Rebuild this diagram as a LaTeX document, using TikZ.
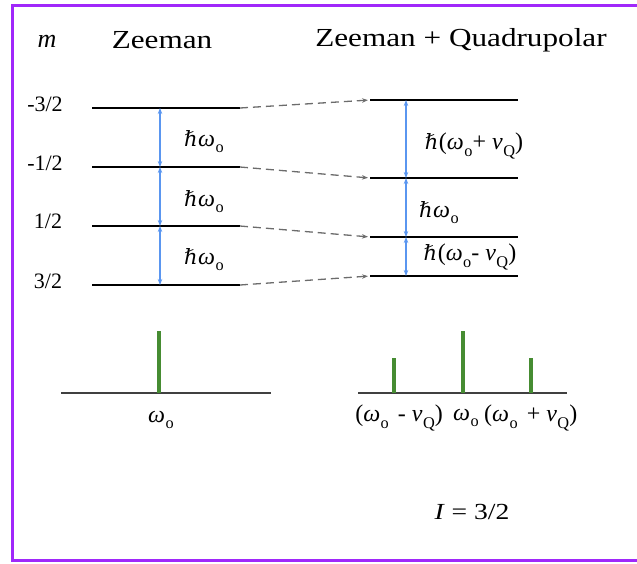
\documentclass[tikz,border=0pt]{standalone}
\usepackage{fontspec}
\usetikzlibrary{arrows.meta}
\setmainfont{Liberation Serif}
\newfontfamily\widefont[FakeStretch=1.2]{Liberation Serif}
\newfontfamily\hbarfont{DejaVu Serif}
\definecolor{framepurple}{RGB}{160,40,250}
\definecolor{peakgreen}{RGB}{70,140,50}
\definecolor{gapblue}{RGB}{90,150,240}
\newcommand{\lowsub}[1]{\kern0.5pt\raisebox{-0.55ex}{\scalebox{0.68}{#1}}}
\newcommand{\wo}{\textit{ω}\lowsub{o}}
\newcommand{\nq}{\textit{ν}\lowsub{Q}}
\newcommand{\hb}{{\hbarfont\itshape\fontsize{21}{24}\selectfont ℏ}\kern0.5pt}
\begin{document}
\begin{tikzpicture}[x=1pt,y=-1pt,>={Stealth[length=6pt,width=4.5pt]},
  level/.style={line width=2.8pt},
  gap/.style={<->,gapblue,line width=1.1pt},
  levelshift/.style={->,dash pattern=on 8pt off 5pt,gray!85!black,line width=1.3pt},
  peak/.style={line width=3.8pt,peakgreen},
  baseline axis/.style={line width=1.4pt,black!75},
  lbl/.style={inner sep=0pt,font=\fontsize{22}{24}\selectfont},
  sym/.style={inner sep=0pt,font=\fontsize{24}{26}\selectfont},
  head/.style={inner sep=0pt,font=\fontsize{26}{28}\selectfont\widefont}]
  \useasboundingbox (0,0) rectangle (637,563);
  \draw[framepurple,line width=3pt] (12,5) rectangle (700,560);

  % headings
  \node[inner sep=0pt,font=\fontsize{26}{28}\selectfont\itshape] (m) at (47,41) {m};
  \node[head] (zee) at (162,40) {Zeeman};
  \node[head] (zq) at (461,40) {Zeeman + Quadrupolar};

  % Zeeman levels
  \coordinate (Z1l) at (92,108);  \coordinate (Z1r) at (240,108);
  \coordinate (Z2l) at (92,167);  \coordinate (Z2r) at (240,167);
  \coordinate (Z3l) at (92,226);  \coordinate (Z3r) at (240,226);
  \coordinate (Z4l) at (92,285);  \coordinate (Z4r) at (240,285);
  \foreach \i in {1,...,4}
    \draw[level] (Z\i l) -- (Z\i r);
  \node[lbl] (m1) at (45,104) {-3/2};
  \node[lbl] (m2) at (45,163) {-1/2};
  \node[lbl] (m3) at (48,221) {1/2};
  \node[lbl] (m4) at (48,281) {3/2};

  % Zeeman + quadrupolar levels
  \coordinate (Q1l) at (370,100);  \coordinate (Q1r) at (518,100);
  \coordinate (Q2l) at (370,178);  \coordinate (Q2r) at (518,178);
  \coordinate (Q3l) at (370,237);  \coordinate (Q3r) at (518,237);
  \coordinate (Q4l) at (370,276);  \coordinate (Q4r) at (518,276);
  \foreach \i in {1,...,4}
    \draw[level] (Q\i l) -- (Q\i r);

  % shifts
  \foreach \i in {1,...,4}
    \draw[levelshift,shorten >=2pt] (Z\i r) -- (Q\i l);

  % level gaps
  \coordinate (zaxis) at (160,0);
  \coordinate (qaxis) at (406,0);
  \draw[gap] (zaxis |- Z1l) -- (zaxis |- Z2l);
  \draw[gap] (zaxis |- Z2l) -- (zaxis |- Z3l);
  \draw[gap] (zaxis |- Z3l) -- (zaxis |- Z4l);
  \draw[gap] (qaxis |- Q1l) -- (qaxis |- Q2l);
  \draw[gap] (qaxis |- Q2l) -- (qaxis |- Q3l);
  \draw[gap] (qaxis |- Q3l) -- (qaxis |- Q4l);
  \node[sym] (g1) at (204,142) {\hb\wo};
  \node[sym] (g2) at (204,202) {\hb\wo};
  \node[sym] (g3) at (204,260) {\hb\wo};
  \node[sym] (q1) at (474,146) {\hb(\wo+ \nq)};
  \node[sym] (q2) at (439,213) {\hb\wo};
  \node[sym] (q3) at (470,257) {\hb(\wo- \nq)};

  % spectra
  \coordinate (zb1) at (61,393);  \coordinate (zb2) at (271,393);
  \draw[baseline axis] (zb1) -- (zb2);
  \coordinate (zp) at (159,393);
  \draw[peak] (zp) -- ++(0,-62);
  \node[sym] (zw) at (161,420) {\wo};

  \coordinate (qb1) at (358,393);  \coordinate (qb2) at (567,393);
  \draw[baseline axis] (qb1) -- (qb2);
  \coordinate (qp1) at (394,393);
  \coordinate (qp2) at (463,393);
  \coordinate (qp3) at (531,393);
  \draw[peak] (qp1) -- ++(0,-35);
  \draw[peak] (qp2) -- ++(0,-62);
  \draw[peak] (qp3) -- ++(0,-35);
  \node[sym,anchor=east] (qw1) at (443,418) {(\wo\kern3pt\ - \nq)};
  \node[sym] (qw2) at (466,418) {\wo};
  \node[sym,anchor=west] (qw3) at (484,418) {(\wo\kern3pt\ + \nq)};

  \node[inner sep=0pt,font=\fontsize{23}{25}\selectfont\widefont] (spin) at (472,512) {\textit{I} = 3/2};
\end{tikzpicture}
\end{document}
